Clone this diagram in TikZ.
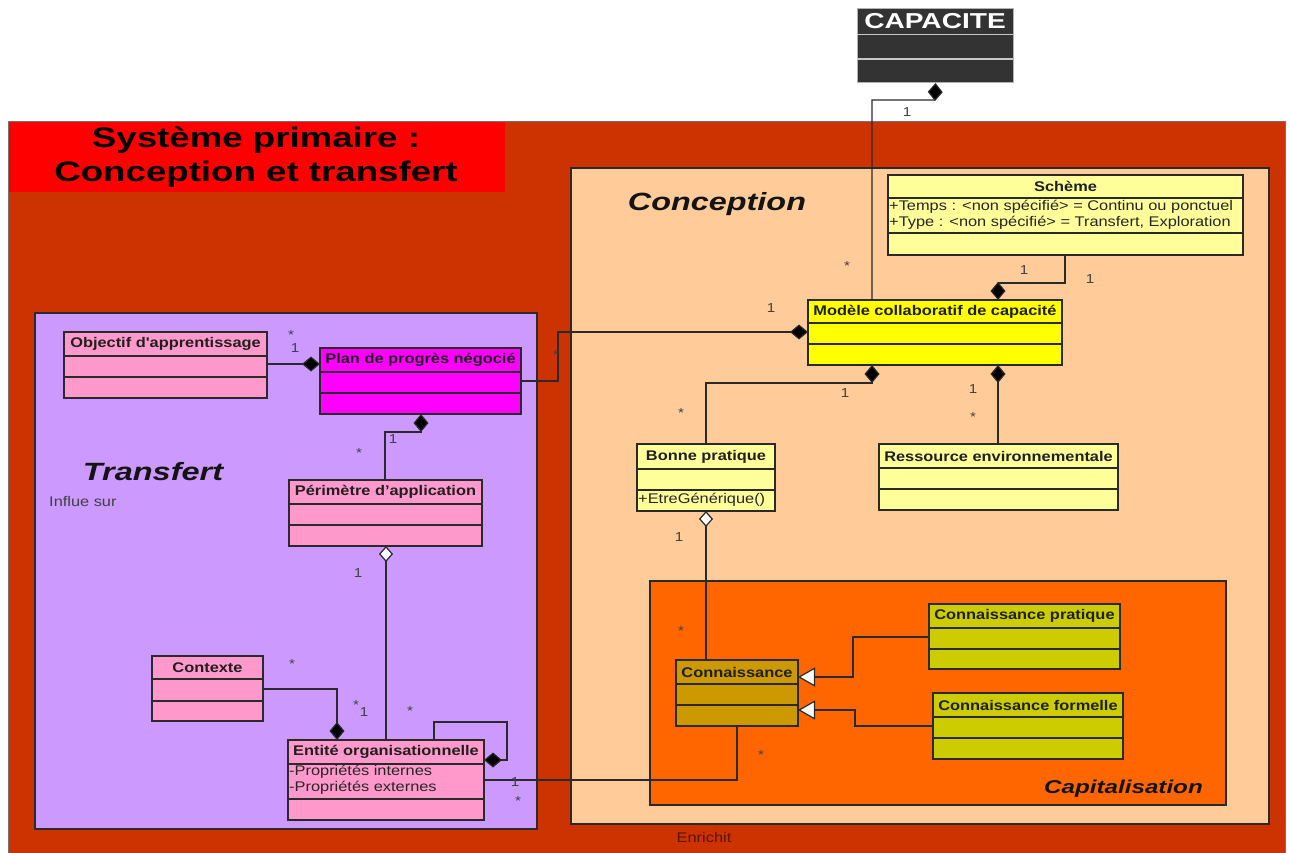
\documentclass[tikz,border=0pt]{standalone}
\usepackage{fontspec}
\setmainfont{Liberation Sans}
\newfontfamily\umlf[FakeStretch=1.17]{Liberation Sans}
\newfontfamily\bigf[FakeStretch=1.3]{Liberation Sans}
\usetikzlibrary{arrows.meta}
\definecolor{cFrame}{HTML}{CC3300}
\definecolor{cTitle}{HTML}{FF0000}
\definecolor{cPeach}{HTML}{FFCC99}
\definecolor{cPurple}{HTML}{CC99FF}
\definecolor{cOrange}{HTML}{FF6600}
\definecolor{cPink}{HTML}{FF99CC}
\definecolor{cMag}{HTML}{FF00FF}
\definecolor{cYel}{HTML}{FFFF00}
\definecolor{cLY}{HTML}{FFFF99}
\definecolor{cOchre}{HTML}{CC9900}
\definecolor{cOlive}{HTML}{CCCC00}
\definecolor{cCap}{HTML}{333333}
\definecolor{cLine}{HTML}{2A2A2A}
\definecolor{cEnr}{HTML}{5A1500}
\newcommand\umlclass[9]{%
  \node[classbox, fill=#8, minimum width={#4-#2}, minimum height={#5-#3}, anchor=north west] (#1) at (#2,#3) {};
  \draw[sepline] (#2,#6) -- (#4,#6) (#2,#7) -- (#4,#7);
  \node[ctitle] (#1-t) at ({(#2+#4)/2},{(#3+#6)/2}) {#9};}
\begin{document}
\begin{tikzpicture}[x=1pt,y=-1pt,
  container/.style={rectangle, draw=cLine, line width=1.2pt, inner sep=0pt, outer sep=0pt, anchor=north west},
  classbox/.style={rectangle, draw=cLine, line width=1.2pt, inner sep=0pt, outer sep=0pt},
  sepline/.style={draw=cLine, line width=1.2pt},
  ctitle/.style={font=\umlf\bfseries\fontsize{14}{16}\selectfont, inner sep=0pt, text=black!88},
  attr/.style={font=\umlf\fontsize{14}{16}\selectfont, inner sep=0pt, anchor=west, text=black!85},
  mult/.style={font=\umlf\fontsize{13}{15}\selectfont, inner sep=0pt, text=black!75},
  bigtitle/.style={font=\bigf\bfseries\fontsize{28.2}{34}\selectfont, inner sep=0pt, anchor=base, text=black},
  pkg/.style={font=\bigf\bfseries\itshape, inner sep=0pt, anchor=base, text=black!92},
  conn/.style={draw=cLine, line width=1.2pt},
  comp/.style={conn, -{Diamond[length=18pt,width=15pt,fill=black]}},
  agg/.style={conn, -{Diamond[open,length=16pt,width=14pt,fill=white]}},
  gen/.style={conn, -{Triangle[open,length=17pt,width=19pt,fill=white]}}]
\path[use as bounding box, fill=white] (0,0) rectangle (1290,852);
% containers
\node[container, draw=black!55, line width=0.8pt, fill=cFrame, minimum width=1277, minimum height=733] (frame) at (8,121) {};
\node[rectangle, fill=cTitle, inner sep=0pt, anchor=north west, minimum width=496, minimum height=70] (titlebox) at (9,122) {};
\node[bigtitle] (title1) at (256,147) {Système primaire :};
\node[bigtitle] (title2) at (256,181) {Conception et transfert};
\node[container, fill=cPurple, minimum width=502, minimum height=516] (transfert) at (35,313) {};
\node[container, fill=cPeach, minimum width=698, minimum height=656] (conception) at (571,168) {};
\node[container, fill=cOrange, minimum width=576, minimum height=224] (capital) at (650,581) {};
\node[pkg, font=\bigf\bfseries\itshape\fontsize{24.9}{30}\selectfont] (conceptionlbl) at (717,210) {Conception};
\node[pkg, font=\bigf\bfseries\itshape\fontsize{25}{30}\selectfont] (transfertlbl) at (153,480) {Transfert};
\node[pkg, font=\bigf\bfseries\itshape\fontsize{18.6}{22}\selectfont] (capitallbl) at (1123.5,793) {Capitalisation};
\node[attr, anchor=base west, text=black!75] (influe) at (49,506) {Influe sur};
\node[attr, anchor=base, text=cEnr] (enrichit) at (704,842) {Enrichit};
% CAPACITE
\node[rectangle, fill=cCap, draw=black!30, line width=1pt, inner sep=0pt, anchor=north west, minimum width=156, minimum height=74] (capacite) at (857,8) {};
\draw[draw=black!22, line width=1.6pt] (857,34.5) -- (1013,34.5) (857,59) -- (1013,59);
\node[font=\bigf\bfseries\fontsize{21.6}{26}\selectfont, text=white, inner sep=0pt, anchor=base] (capacite-t) at (935,28) {CAPACITE};
% classes
\umlclass{scheme}{888}{175}{1243}{255}{198}{233}{cLY}{Schème}
\node[attr] (scheme-a1) at (889,207) {+Temps : <non spécifié> = Continu ou ponctuel};
\node[attr] (scheme-a2) at (889,223) {+Type : <non spécifié> = Transfert, Exploration};
\umlclass{modele}{808}{300}{1062}{365}{323}{344}{cYel}{Modèle collaboratif de capacité}
\umlclass{objectif}{64}{332}{267}{398}{356}{377}{cPink}{Objectif d'apprentissage}
\umlclass{plan}{320}{348}{521}{414}{372}{393}{cMag}{Plan de progrès négocié}
\umlclass{perimetre}{289}{480}{482}{546}{504}{525}{cPink}{Périmètre d’application}
\umlclass{bonne}{637}{444}{775}{511}{469}{490}{cLY}{Bonne pratique}
\node[attr] (bonne-o1) at (638,500) {+EtreGénérique()};
\umlclass{ressource}{879}{444}{1118}{510}{468}{489}{cLY}{Ressource environnementale}
\umlclass{contexte}{152}{656}{263}{721}{679}{701}{cPink}{Contexte}
\umlclass{entite}{288}{740}{484}{820}{764}{799}{cPink}{Entité organisationnelle}
\node[attr] (entite-a1) at (289,772) {-Propriétés internes};
\node[attr] (entite-a2) at (289,788) {-Propriétés externes};
\umlclass{connaissance}{676}{660}{798}{726}{684}{705}{cOchre}{Connaissance}
\umlclass{cpratique}{929}{604}{1120}{669}{628}{649}{cOlive}{Connaissance pratique}
\umlclass{cformelle}{933}{693}{1123}{759}{717}{738}{cOlive}{Connaissance formelle}
% connectors
\draw[comp] (modele.north -| 872,0) -- (872,100) -- (935,100) -- (capacite.south);
\draw[comp] (scheme.south -| 1065,0) -- (1065,283) -- (998,283) -- (modele.north -| 998,0);
\draw[comp] (plan.east |- 0,381) -- (558,381) -- (558,332) -- (modele.west |- 0,332);
\draw[comp] (bonne.north -| 706,0) -- (706,383) -- (872,383) -- (modele.south -| 872,0);
\draw[comp] (ressource.north -| 998,0) -- (modele.south -| 998,0);
\draw[comp] (objectif.east |- 0,364) -- (plan.west |- 0,364);
\draw[comp] (perimetre.north -| 385,0) -- (385,432) -- (421,432) -- (plan.south -| 421,0);
\draw[agg] (entite.north -| 386,0) -- (perimetre.south -| 386,0);
\draw[agg] (connaissance.north -| 706,0) -- (bonne.south -| 706,0);
\draw[comp] (contexte.east |- 0,689) -- (337,689) -- (entite.north -| 337,0);
\draw[comp] (entite.north -| 434,0) -- (434,722) -- (507,722) -- (507,760) -- (entite.east |- 0,760);
\draw[conn] (entite.east |- 0,780) -- (737,780) -- (connaissance.south -| 737,0);
\draw[gen] (cpratique.west |- 0,637) -- (853,637) -- (853,677) -- (connaissance.east |- 0,677);
\draw[gen] (cformelle.west |- 0,726) -- (855,726) -- (855,710) -- (connaissance.east |- 0,710);
% multiplicities
\node[mult] (m1) at (907,112) {1};
\node[mult] (m2) at (847,266) {*};
\node[mult] (m3) at (1024,270) {1};
\node[mult] (m4) at (1090,279) {1};
\node[mult] (m5) at (771,308) {1};
\node[mult] (m6) at (556,355) {*};
\node[mult] (m7) at (845,393) {1};
\node[mult] (m8) at (681,413) {*};
\node[mult] (m9) at (973,389) {1};
\node[mult] (m10) at (973,417) {*};
\node[mult] (m11) at (679,537) {1};
\node[mult] (m12) at (681,631) {*};
\node[mult] (m13) at (761,755) {*};
\node[mult] (m14) at (295,348) {1};
\node[mult] (m15) at (291,335) {*};
\node[mult] (m16) at (393,439) {1};
\node[mult] (m17) at (359,453) {*};
\node[mult] (m18) at (358,573) {1};
\node[mult] (m19) at (292,664) {*};
\node[mult] (m20) at (364,712) {1};
\node[mult] (m21) at (356,705) {*};
\node[mult] (m22) at (410,711) {*};
\node[mult] (m23) at (515,782) {1};
\node[mult] (m24) at (518,801) {*};
\end{tikzpicture}
\end{document}
